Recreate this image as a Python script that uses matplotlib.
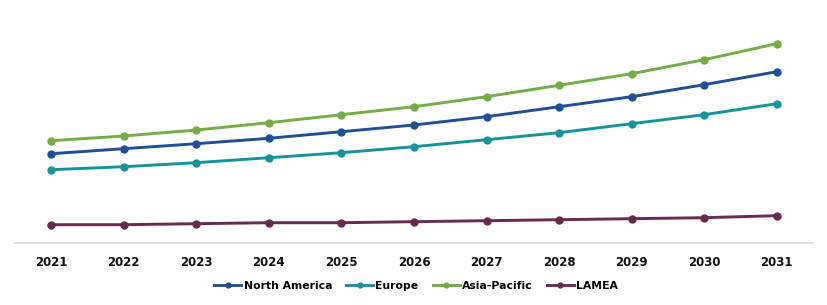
import matplotlib
matplotlib.use('Agg')
import matplotlib.pyplot as plt

years = [2021, 2022, 2023, 2024, 2025, 2026, 2027, 2028, 2029, 2030, 2031]
north_america = [89.3, 94.3, 99.3, 104.7, 111.3, 118.0, 126.3, 136.3, 146.3, 158.3, 171.3]
europe = [73.3, 76.3, 80.3, 85.3, 90.3, 96.3, 103.3, 110.3, 119.3, 128.3, 139.3]
asia_pacific = [102.3, 107.0, 113.0, 120.3, 128.3, 136.3, 146.3, 157.7, 169.3, 183.3, 199.3]
lamea = [18.3, 18.3, 19.3, 20.3, 20.3, 21.3, 22.3, 23.3, 24.3, 25.3, 27.3]

series = [
    ('North America', north_america, '#204F96'),
    ('Europe', europe, '#15939D'),
    ('Asia-Pacific', asia_pacific, '#72AD45'),
    ('LAMEA', lamea, '#6A2950'),
]

fig = plt.figure(figsize=(8.28, 3.05), dpi=100)
ax = fig.add_axes([15 / 828, 62 / 305, 798 / 828, 243 / 305])

for name, vals, col in series:
    ax.plot(years, vals, color=col, linewidth=2.1, marker='o', markersize=5, label=name)

ax.set_xlim(2020.5, 2031.5)
ax.set_ylim(0, 243)
ax.set_xticks(years)
ax.set_xticklabels([str(y) for y in years], fontsize=8.5, fontweight='bold', color='#111111')
ax.set_yticks([])
ax.tick_params(axis='x', length=0, pad=9)
for s in ['top', 'right', 'left']:
    ax.spines[s].set_visible(False)
ax.spines['bottom'].set_color('#D9D9D9')
ax.spines['bottom'].set_linewidth(1.2)

leg = fig.legend(loc='center', bbox_to_anchor=(416 / 828, 1 - 286 / 305), ncol=4, frameon=False,
                 prop={'size': 7.8, 'weight': 'bold'}, handlelength=2.5, handletextpad=0.2,
                 columnspacing=1.3, markerscale=0.7)
for t in leg.get_texts():
    t.set_va('baseline')

fig.savefig('out.png', dpi=100)
